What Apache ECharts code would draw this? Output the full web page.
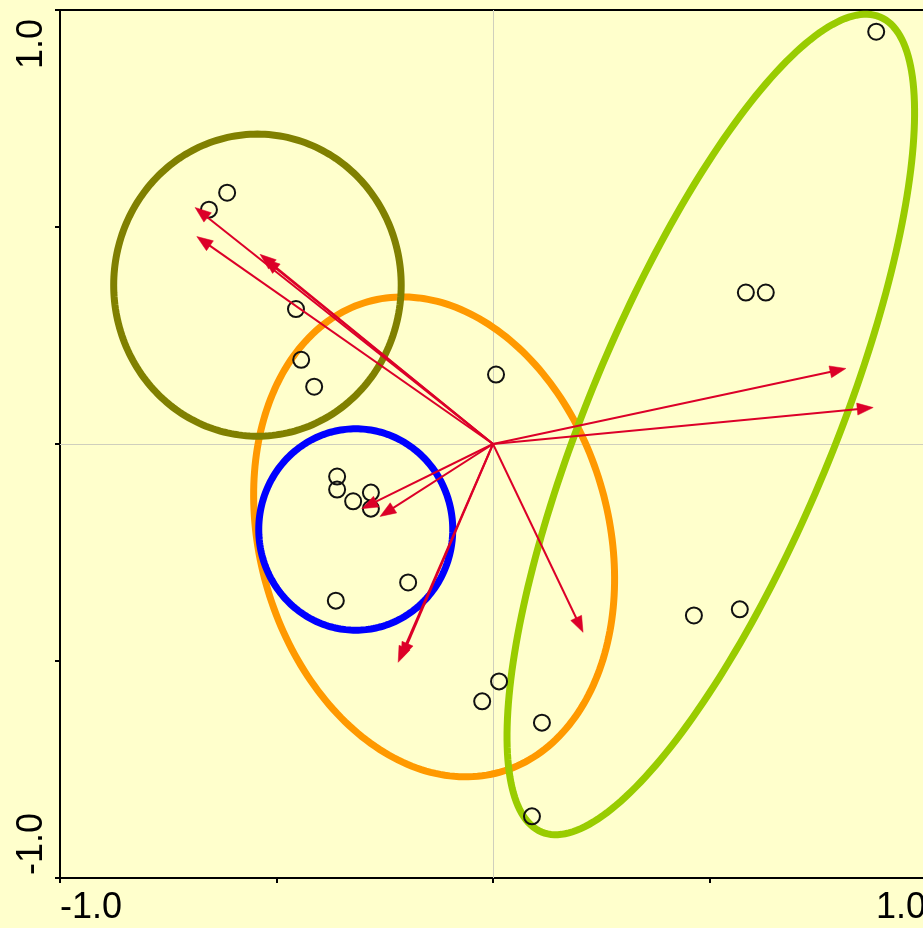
<!DOCTYPE html>
<html>
<head>
<meta charset="utf-8">
<script src="https://cdn.jsdelivr.net/npm/echarts@6/dist/echarts.min.js"></script>
<style>
html,body{margin:0;padding:0;background:#FFFFCC;}
#chart{width:923px;height:928px;}
</style>
</head>
<body>
<div id="chart"></div>
<script>
// Sample points (circles)
const pointX = [0.885, -0.614, -0.656, -0.455, -0.443, -0.413, 0.007, 0.584, 0.630, -0.360, -0.360, -0.323, -0.282, -0.282, -0.196, -0.363, 0.464, 0.570, 0.014, -0.025, 0.113, 0.090];
const pointY = [0.950, 0.579, 0.540, 0.311, 0.194, 0.132, 0.160, 0.349, 0.349, -0.075, -0.105, -0.132, -0.112, -0.149, -0.319, -0.361, -0.395, -0.381, -0.547, -0.593, -0.642, -0.858];

// Arrow tips (vectors from origin)
const arrowX = [-0.688, -0.684, -0.538, -0.529, 0.815, 0.878, 0.208, -0.219, -0.212, -0.303, -0.261];
const arrowY = [0.545, 0.478, 0.437, 0.427, 0.174, 0.084, -0.434, -0.503, -0.494, -0.149, -0.167];

// Ellipses: centre, semi-axes, angle of first axis (deg from +x), colour
const ellipseCx = [-0.136, -0.544, -0.317, 0.503];
const ellipseCy = [-0.214, 0.366, -0.197, 0.045];
const ellipseA = [0.563, 0.332, 0.224, 1.017];
const ellipseB = [0.403, 0.348, 0.232, 0.284];
const ellipseAngle = [105.7, 0, 0, 67.4];
const ellipseColor = ['#FF9900', '#808000', '#0000FF', '#99CC00'];

// Axis ticks / labels
const axisMin = -1, axisMax = 1, axisStep = 0.5;
const shownLabels = [-1, 1];

const chart = echarts.init(document.getElementById('chart'), null, {renderer: 'canvas'});
const fontFamily = '"Liberation Sans", Arial, sans-serif';
const labelFmt = v => (shownLabels.some(s => Math.abs(s - v) < 1e-9) ? v.toFixed(1) : '');

const axisCommon = {
  type: 'value', min: axisMin, max: axisMax, interval: axisStep,
  axisLine: {show: true, onZero: false, lineStyle: {color: '#000', width: 2}},
  axisTick: {show: true, length: 5, lineStyle: {color: '#000', width: 2}},
  splitLine: {show: false}
};

const ellipseData = ellipseCx.map((c, i) => [c, ellipseCy[i], ellipseA[i], ellipseB[i], ellipseAngle[i], i]);
const arrowData = arrowX.map((x, i) => [x, arrowY[i]]);
const pointData = pointX.map((x, i) => [x, pointY[i]]);

chart.setOption({
  backgroundColor: '#FFFFCC',
  animation: false,
  grid: {left: 60, top: 10, right: -3, bottom: 50, show: true, borderColor: '#000', borderWidth: 2,
    backgroundColor: 'transparent', containLabel: false, outerBoundsMode: 'none'},
  xAxis: Object.assign({}, axisCommon, {
    axisLabel: {formatter: labelFmt, fontSize: 36, fontFamily, color: '#000', margin: 12,
      showMinLabel: true, showMaxLabel: true, alignMinLabel: 'left', alignMaxLabel: 'right'}
  }),
  yAxis: Object.assign({}, axisCommon, {
    axisLabel: {formatter: labelFmt, fontSize: 36, fontFamily, color: '#000', margin: 10, rotate: 90,
      showMinLabel: true, showMaxLabel: true, alignMinLabel: 'left', alignMaxLabel: 'right',
      padding: [0, 9, 0, 3]}
  }),
  series: [
    {
      type: 'custom', silent: true, z: 2,
      data: ellipseData,
      encode: {x: 0, y: 1},
      renderItem: (params, api) => {
        const cx = api.value(0), cy = api.value(1), a = api.value(2), b = api.value(3);
        const ang = api.value(4) * Math.PI / 180;
        const col = ellipseColor[api.value(5)];
        const pts = [];
        const N = 240;
        for (let k = 0; k < N; k++) {
          const t = 2 * Math.PI * k / N;
          const u = a * Math.cos(t), w = b * Math.sin(t);
          const x = cx + u * Math.cos(ang) - w * Math.sin(ang);
          const y = cy + u * Math.sin(ang) + w * Math.cos(ang);
          pts.push(api.coord([x, y]));
        }
        return {type: 'polygon', shape: {points: pts}, style: {fill: 'none', stroke: col, lineWidth: 7}};
      }
    },
    {
      type: 'scatter', z: 3, silent: true,
      data: pointData,
      symbol: 'circle', symbolSize: 16,
      itemStyle: {color: 'rgba(0,0,0,0)', borderColor: '#111', borderWidth: 2, opacity: 1},
      markLine: {
        silent: true, symbol: 'none', z: 1,
        label: {show: false},
        lineStyle: {color: '#cfcfbd', width: 1, type: 'solid'},
        data: [{xAxis: 0}, {yAxis: 0}]
      }
    },
    {
      type: 'custom', silent: true, z: 4,
      data: arrowData,
      encode: {x: 0, y: 1},
      renderItem: (params, api) => {
        const o = api.coord([0, 0]);
        const p = api.coord([api.value(0), api.value(1)]);
        const dx = p[0] - o[0], dy = p[1] - o[1];
        const L = Math.sqrt(dx * dx + dy * dy);
        const ux = dx / L, uy = dy / L;
        const hl = 16, hw = 6;
        const bx = p[0] - ux * hl, by = p[1] - uy * hl;
        const col = '#DC0028';
        return {
          type: 'group',
          children: [
            {type: 'line', shape: {x1: o[0], y1: o[1], x2: bx + ux * 2, y2: by + uy * 2}, style: {stroke: col, lineWidth: 2}},
            {type: 'polygon', shape: {points: [[p[0], p[1]], [bx - uy * hw, by + ux * hw], [bx + uy * hw, by - ux * hw]]}, style: {fill: col, stroke: col, lineWidth: 0.5}}
          ]
        };
      }
    }
  ]
});
</script>
</body>
</html>
